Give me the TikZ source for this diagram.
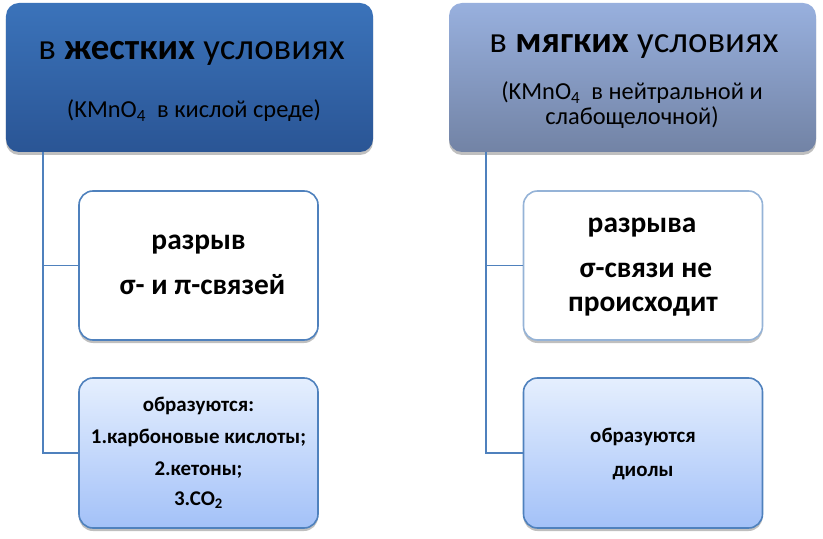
\documentclass[tikz,border=0pt]{standalone}
\usepackage{fontspec}
\setmainfont{Carlito}
\usetikzlibrary{shadows}
\definecolor{hdAa}{HTML}{3B73BA}
\definecolor{hdAb}{HTML}{2A5595}
\definecolor{hdBa}{HTML}{98B0DE}
\definecolor{hdBb}{HTML}{7283A5}
\definecolor{lineC}{HTML}{4F81BD}
\definecolor{lineL}{HTML}{95B3D7}
\definecolor{bxa}{HTML}{E5EFFE}
\definecolor{bxb}{HTML}{A3C1F8}
\begin{document}
\begin{tikzpicture}[x=1bp,y=-1bp,
  shad/.style={drop shadow={shadow xshift=0bp,shadow yshift=-3bp,opacity=0.25,fill=black}},
  hdr/.style={rounded corners=13bp,minimum width=367bp,minimum height=149bp,inner sep=0,draw=none,shad},
  hdrA/.style={hdr,top color=hdAa,bottom color=hdAb},
  hdrB/.style={hdr,top color=hdBa,bottom color=hdBb},
  boxw/.style={rounded corners=14bp,minimum width=239bp,minimum height=149bp,inner sep=0,fill=white,line width=1.6bp,shad},
  boxg/.style={rounded corners=14bp,minimum width=239bp,minimum height=150bp,inner sep=0,top color=bxa,bottom color=bxb,draw=lineC,line width=1.6bp,shad},
  ttl/.style={anchor=base,inner sep=0,font=\fontsize{37}{42}\selectfont},
  sbt/.style={anchor=base,inner sep=0,font=\fontsize{24.5}{28}\selectfont},
  big/.style={anchor=base,inner sep=0,font=\fontsize{29.5}{34}\selectfont\bfseries},
  sml/.style={anchor=base,inner sep=0,font=\fontsize{21}{25}\selectfont\bfseries},
  conn/.style={draw=lineC,line width=1.8bp}
]
\useasboundingbox (0,0) rectangle (823,539);

% headers
\node[hdrA] (hL) at (189.5,77.5) {};
\node[hdrB] (hR) at (632.5,77.5) {};
% boxes
\node[boxw,draw=lineC] (b1L) at (198.5,265.5) {};
\node[boxg] (b2L) at (198.5,453) {};
\node[boxw,draw=lineL] (b1R) at (643,265.5) {};
\node[boxg] (b2R) at (643,453) {};

% connectors
\coordinate (sL) at (43,152);
\coordinate (sR) at (486,152);
\draw[conn] (sL) -- (sL |- b2L.west) -- (b2L.west);
\draw[conn] (sL |- b1L.west) -- (b1L.west);
\draw[conn] (sR) -- (sR |- b2R.west) -- (b2R.west);
\draw[conn] (sR |- b1R.west) -- (b1R.west);

% header texts
\node[ttl] (tL) at (191.5,60) {в \textbf{жестких} условиях};
\node[sbt] (uL) at (194,118) {(KMnO\textsubscript{4}\ \ в кислой среде)};
\node[ttl] (tR) at (634,53) {в \textbf{мягких} условиях};
\node[sbt] (uR1) at (632,100) {(KMnO\textsubscript{4}\ \ в нейтральной и};
\node[sbt] (uR2) at (632,125) {слабощелочной)};

% box texts
\node[big] (aL1) at (198.5,250) {разрыв};
\node[big] (aL2) at (202.5,295) {σ- и π-связей};
\node[big] (aR1) at (642,233) {разрыва};
\node[big] (aR2) at (646,278) {σ-связи не};
\node[big] (aR3) at (643,312) {происходит};

\node[sml] (cL1) at (198.5,411) {образуются:};
\node[sml] (cL2) at (198.5,443) {1.карбоновые кислоты;};
\node[sml] (cL3) at (198.5,475) {2.кетоны;};
\node[sml] (cL4) at (198.5,505) {3.CO\textsubscript{2}};
\node[sml] (cR1) at (643,442) {образуются};
\node[sml] (cR2) at (643,476) {диолы};
\end{tikzpicture}
\end{document}
